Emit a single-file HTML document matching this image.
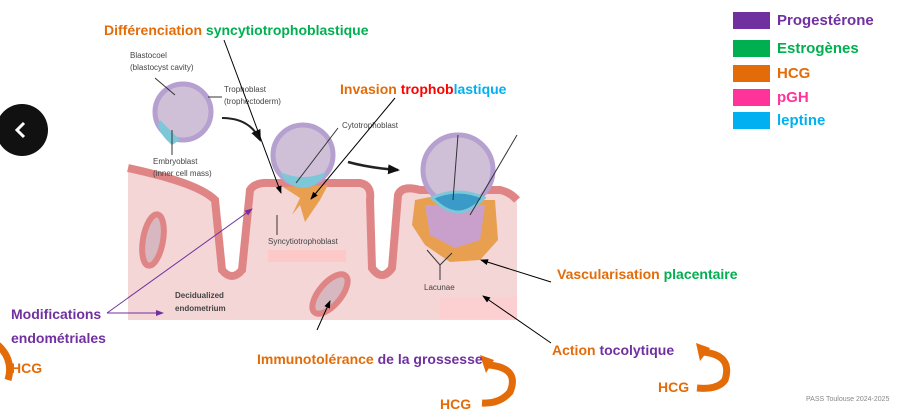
<!DOCTYPE html>
<html><head><meta charset="utf-8"><style>
body{margin:0;width:898px;height:412px;background:#fff;overflow:hidden;font-family:"Liberation Sans",sans-serif;position:relative}
.t{position:absolute;font-weight:bold;font-size:14px;white-space:nowrap}
.o{color:#e36c09}.g{color:#00b050}.p{color:#7030a0}.r{color:#ff0000}.c{color:#00b0f0}.k{color:#ff3399}
.lg{position:absolute;left:733px;width:37px;height:17px}
.lt{position:absolute;left:777px;font-weight:bold;font-size:15px}
</style></head><body>
<svg width="898" height="412" style="position:absolute;left:0;top:0">
<defs><marker id="a" markerUnits="userSpaceOnUse" markerWidth="8" markerHeight="8" refX="7" refY="4" orient="auto"><path d="M0,1 L8,4 L0,7z" fill="#000"/></marker>
<marker id="ab" markerUnits="userSpaceOnUse" markerWidth="12" markerHeight="12" refX="10" refY="6" orient="auto"><path d="M0,1 L12,6 L0,11z" fill="#111"/></marker>
<marker id="ap" markerUnits="userSpaceOnUse" markerWidth="8" markerHeight="8" refX="7" refY="4" orient="auto"><path d="M0,1 L8,4 L0,7z" fill="#7030a0"/></marker></defs>
<path d="M128,168 C160,175 200,185 215,200 L222,270 Q232,282 242,270 L250,190 Q255,182 270,183 L360,183 Q372,185 370,200 L372,268 Q382,282 392,268 L398,195 Q402,185 420,190 L500,190 Q510,192 517,200 L517,320 L128,320 Z" fill="#f4d6d6"/>
<path d="M128,168 C160,175 200,185 215,200 L222,270 Q232,282 242,270 L250,190 Q255,182 270,183 L360,183 Q372,185 370,200 L372,268 Q382,282 392,268 L398,195 Q402,185 420,190 L500,190 Q510,192 517,200" fill="none" stroke="#e08585" stroke-width="8"/>
<rect x="268" y="250" width="78" height="12" fill="#fcc8c8"/>
<rect x="440" y="297" width="77" height="22" fill="#fcd0d0"/>
<ellipse cx="153" cy="240" rx="10" ry="26" fill="#d8b8c0" stroke="#e08585" stroke-width="6" transform="rotate(10 153 240)"/>
<ellipse cx="330" cy="294" rx="11" ry="24" fill="#d8b8c0" stroke="#e08585" stroke-width="6" transform="rotate(40 330 294)"/>
<circle cx="183" cy="112" r="28" fill="#cfc0d8" stroke="#b5a0d0" stroke-width="5"/>
<path d="M160,120 Q170,130 180,140 L172,145 Q160,135 158,125z" fill="#7cc8d8"/>
<path d="M283,187 L300,198 L292,215 L300,205 L305,222 L320,200 L328,185z" fill="#e8a050"/>
<circle cx="303" cy="155" r="30" fill="#cfc0d8" stroke="#b5a0d0" stroke-width="5"/>
<path d="M280,172 Q303,182 326,172 Q320,186 303,188 Q286,186 280,172z" fill="#7cc8d8"/>
<path d="M415,200 L440,195 L470,200 L495,200 L498,240 L480,260 L450,262 L425,245 L412,225z" fill="#e8a050"/>
<path d="M425,205 L485,205 L480,240 L455,248 L430,235z" fill="#c9a0cc"/>
<circle cx="458" cy="170" r="35" fill="#cfc0d8" stroke="#b5a0d0" stroke-width="5"/>
<path d="M432,198 Q458,186 484,198 Q470,212 458,212 Q446,212 432,198z" fill="#3a9ac8" stroke="#7cc8d8" stroke-width="3"/>
<path d="M222,118 Q250,118 260,140" fill="none" stroke="#222" stroke-width="2" marker-end="url(#ab)"/>
<path d="M348,162 Q370,168 398,170" fill="none" stroke="#222" stroke-width="2.5" marker-end="url(#ab)"/>
<g font-size="8" fill="#444" font-family="Liberation Sans">
<text x="130" y="58">Blastocoel</text><text x="130" y="70">(blastocyst cavity)</text>
<text x="224" y="92">Trophoblast</text><text x="224" y="104">(trophectoderm)</text>
<text x="342" y="128">Cytotrophoblast</text>
<text x="153" y="164">Embryoblast</text><text x="153" y="176">(inner cell mass)</text>
<text x="268" y="244">Syncytiotrophoblast</text>
<text x="424" y="290">Lacunae</text>
<text x="175" y="298" font-weight="bold">Decidualized</text><text x="175" y="311" font-weight="bold">endometrium</text>
</g>
<g stroke="#333" stroke-width="1" fill="none">
<line x1="277" y1="215" x2="277" y2="235"/><line x1="172" y1="130" x2="172" y2="155"/>
<line x1="155" y1="78" x2="175" y2="95"/><line x1="208" y1="97" x2="222" y2="97"/>
<line x1="296" y1="183" x2="338" y2="128"/><line x1="453" y1="200" x2="458" y2="135"/><line x1="470" y1="215" x2="517" y2="135"/>
<path d="M427,250 L440,265 L452,253 M440,265 L440,280"/>
</g>
<g stroke="#000" stroke-width="1" fill="none" marker-end="url(#a)">
<line x1="224" y1="40" x2="281" y2="193"/>
<line x1="395" y1="98" x2="311" y2="199"/>
<line x1="551" y1="282" x2="481" y2="260"/>
<line x1="551" y1="343" x2="483" y2="296"/>
<line x1="317" y1="330" x2="330" y2="301"/>
</g>
<g stroke="#7030a0" stroke-width="1" fill="none" marker-end="url(#ap)">
<line x1="107" y1="313" x2="252" y2="209"/>
<line x1="107" y1="313" x2="163" y2="313"/>
</g>
<circle cx="22" cy="130" r="26" fill="#111"/>
<path d="M24,123 L17,130 L24,137" fill="none" stroke="#fff" stroke-width="3"/>
<g fill="none" stroke="#e36c09" stroke-width="7" stroke-linecap="butt">
<path d="M489,365 Q520,368 510,392 Q500,404 482,403"/>
<path d="M703,352 Q733,355 725,380 Q718,390 697,388"/>
<path d="M-2,345 Q14,360 8,380"/>
</g>
<path d="M480,355 L494,360 L486,373z" fill="#e36c09"/>
<path d="M696,343 L710,348 L700,361z" fill="#e36c09"/>
</svg>
<div class="t" style="left:104px;top:22px"><span class="o">Différenciation</span> <span class="g">syncytiotrophoblastique</span></div>
<div class="t" style="left:340px;top:81px"><span class="o">Invasion</span> <span class="r">trophob</span><span class="c">lastique</span></div>
<div class="t g" style="left:557px;top:266px"><span class="o">Vascularisation</span> placentaire</div>
<div class="t" style="left:552px;top:342px"><span class="o">Action</span> <span class="p">tocolytique</span></div>
<div class="t" style="left:257px;top:351px"><span class="o">Immunotolérance</span> <span class="p">de la grossesse</span></div>
<div class="t p" style="left:11px;top:306px">Modifications</div>
<div class="t p" style="left:11px;top:330px">endométriales</div>
<div class="t o" style="left:11px;top:360px">HCG</div>
<div class="t o" style="left:440px;top:396px">HCG</div>
<div class="t o" style="left:658px;top:379px">HCG</div>
<div class="lg" style="top:12px;background:#7030a0"></div><div class="lt p" style="top:12px">Progestérone</div>
<div class="lg" style="top:40px;background:#00b050"></div><div class="lt g" style="top:40px">Estrogènes</div>
<div class="lg" style="top:65px;background:#e36c09"></div><div class="lt o" style="top:65px">HCG</div>
<div class="lg" style="top:89px;background:#ff3399"></div><div class="lt k" style="top:89px">pGH</div>
<div class="lg" style="top:112px;background:#00b0f0"></div><div class="lt c" style="top:112px">leptine</div>
<div style="position:absolute;left:806px;top:396px;font-size:7px;color:#888">PASS Toulouse 2024-2025</div>
</body></html>
